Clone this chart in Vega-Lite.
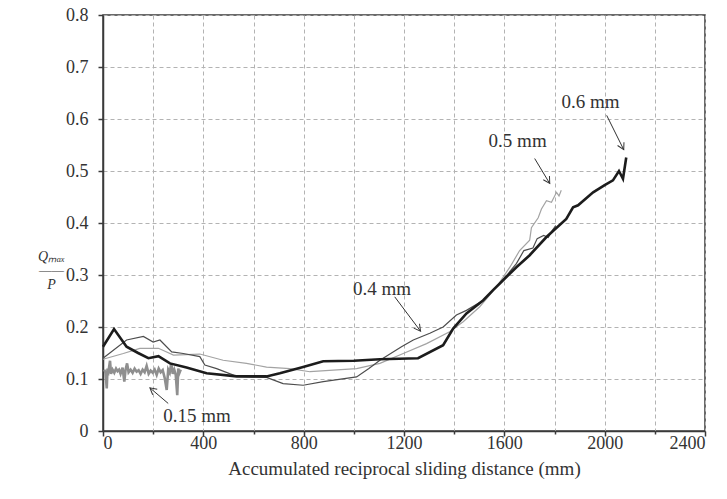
{
  "$schema": "https://vega.github.io/schema/vega-lite/v6.json",
  "width": 602,
  "height": 416,
  "autosize": {"type": "none"},
  "padding": {"left": 103, "top": 15, "right": 22, "bottom": 68},
  "background": "white",
  "config": {
    "font": "Liberation Serif",
    "view": {"stroke": "#3a3a3a", "strokeWidth": 1.5}
  },
  "datasets": {
    "curves": [
      {"series": "0.5 mm", "x": 0, "y": 0.138},
      {"series": "0.5 mm", "x": 81, "y": 0.149},
      {"series": "0.5 mm", "x": 147, "y": 0.159},
      {"series": "0.5 mm", "x": 221, "y": 0.159},
      {"series": "0.5 mm", "x": 281, "y": 0.146},
      {"series": "0.5 mm", "x": 386, "y": 0.148},
      {"series": "0.5 mm", "x": 479, "y": 0.136},
      {"series": "0.5 mm", "x": 572, "y": 0.13},
      {"series": "0.5 mm", "x": 652, "y": 0.123},
      {"series": "0.5 mm", "x": 745, "y": 0.12},
      {"series": "0.5 mm", "x": 825, "y": 0.114},
      {"series": "0.5 mm", "x": 1011, "y": 0.12},
      {"series": "0.5 mm", "x": 1104, "y": 0.13},
      {"series": "0.5 mm", "x": 1197, "y": 0.149},
      {"series": "0.5 mm", "x": 1290, "y": 0.168},
      {"series": "0.5 mm", "x": 1382, "y": 0.191},
      {"series": "0.5 mm", "x": 1436, "y": 0.21},
      {"series": "0.5 mm", "x": 1502, "y": 0.239},
      {"series": "0.5 mm", "x": 1569, "y": 0.277},
      {"series": "0.5 mm", "x": 1622, "y": 0.315},
      {"series": "0.5 mm", "x": 1661, "y": 0.347},
      {"series": "0.5 mm", "x": 1701, "y": 0.367},
      {"series": "0.5 mm", "x": 1708, "y": 0.391},
      {"series": "0.5 mm", "x": 1735, "y": 0.41},
      {"series": "0.5 mm", "x": 1748, "y": 0.427},
      {"series": "0.5 mm", "x": 1768, "y": 0.443},
      {"series": "0.5 mm", "x": 1788, "y": 0.44},
      {"series": "0.5 mm", "x": 1808, "y": 0.459},
      {"series": "0.5 mm", "x": 1818, "y": 0.452},
      {"series": "0.5 mm", "x": 1827, "y": 0.463},
      {"series": "0.4 mm", "x": 0, "y": 0.14},
      {"series": "0.4 mm", "x": 94, "y": 0.175},
      {"series": "0.4 mm", "x": 161, "y": 0.182},
      {"series": "0.4 mm", "x": 200, "y": 0.171},
      {"series": "0.4 mm", "x": 227, "y": 0.175},
      {"series": "0.4 mm", "x": 274, "y": 0.152},
      {"series": "0.4 mm", "x": 320, "y": 0.149},
      {"series": "0.4 mm", "x": 386, "y": 0.143},
      {"series": "0.4 mm", "x": 406, "y": 0.127},
      {"series": "0.4 mm", "x": 453, "y": 0.12},
      {"series": "0.4 mm", "x": 533, "y": 0.105},
      {"series": "0.4 mm", "x": 652, "y": 0.103},
      {"series": "0.4 mm", "x": 718, "y": 0.091},
      {"series": "0.4 mm", "x": 798, "y": 0.088},
      {"series": "0.4 mm", "x": 878, "y": 0.095},
      {"series": "0.4 mm", "x": 1011, "y": 0.104},
      {"series": "0.4 mm", "x": 1060, "y": 0.12},
      {"series": "0.4 mm", "x": 1104, "y": 0.136},
      {"series": "0.4 mm", "x": 1190, "y": 0.162},
      {"series": "0.4 mm", "x": 1237, "y": 0.175},
      {"series": "0.4 mm", "x": 1303, "y": 0.188},
      {"series": "0.4 mm", "x": 1356, "y": 0.2},
      {"series": "0.4 mm", "x": 1409, "y": 0.223},
      {"series": "0.4 mm", "x": 1449, "y": 0.232},
      {"series": "0.4 mm", "x": 1515, "y": 0.251},
      {"series": "0.4 mm", "x": 1582, "y": 0.283},
      {"series": "0.4 mm", "x": 1648, "y": 0.322},
      {"series": "0.4 mm", "x": 1678, "y": 0.347},
      {"series": "0.4 mm", "x": 1714, "y": 0.352},
      {"series": "0.4 mm", "x": 1731, "y": 0.37},
      {"series": "0.4 mm", "x": 1757, "y": 0.376},
      {"series": "0.4 mm", "x": 1775, "y": 0.372},
      {"series": "0.4 mm", "x": 1790, "y": 0.385},
      {"series": "0.4 mm", "x": 1805, "y": 0.395},
      {"series": "0.15 mm", "x": 5, "y": 0.118},
      {"series": "0.15 mm", "x": 10, "y": 0.112},
      {"series": "0.15 mm", "x": 15, "y": 0.082},
      {"series": "0.15 mm", "x": 18, "y": 0.12},
      {"series": "0.15 mm", "x": 22, "y": 0.115},
      {"series": "0.15 mm", "x": 28, "y": 0.135},
      {"series": "0.15 mm", "x": 32, "y": 0.11},
      {"series": "0.15 mm", "x": 38, "y": 0.118},
      {"series": "0.15 mm", "x": 45, "y": 0.112},
      {"series": "0.15 mm", "x": 52, "y": 0.12},
      {"series": "0.15 mm", "x": 58, "y": 0.115},
      {"series": "0.15 mm", "x": 64, "y": 0.118},
      {"series": "0.15 mm", "x": 70, "y": 0.11},
      {"series": "0.15 mm", "x": 78, "y": 0.122},
      {"series": "0.15 mm", "x": 85, "y": 0.095},
      {"series": "0.15 mm", "x": 90, "y": 0.118},
      {"series": "0.15 mm", "x": 96, "y": 0.13},
      {"series": "0.15 mm", "x": 102, "y": 0.113},
      {"series": "0.15 mm", "x": 110, "y": 0.118},
      {"series": "0.15 mm", "x": 118, "y": 0.112},
      {"series": "0.15 mm", "x": 126, "y": 0.12},
      {"series": "0.15 mm", "x": 134, "y": 0.114},
      {"series": "0.15 mm", "x": 142, "y": 0.117},
      {"series": "0.15 mm", "x": 150, "y": 0.11},
      {"series": "0.15 mm", "x": 158, "y": 0.118},
      {"series": "0.15 mm", "x": 166, "y": 0.113},
      {"series": "0.15 mm", "x": 174, "y": 0.125},
      {"series": "0.15 mm", "x": 182, "y": 0.11},
      {"series": "0.15 mm", "x": 190, "y": 0.116},
      {"series": "0.15 mm", "x": 198, "y": 0.112},
      {"series": "0.15 mm", "x": 206, "y": 0.118},
      {"series": "0.15 mm", "x": 214, "y": 0.108},
      {"series": "0.15 mm", "x": 222, "y": 0.12},
      {"series": "0.15 mm", "x": 230, "y": 0.113},
      {"series": "0.15 mm", "x": 238, "y": 0.117},
      {"series": "0.15 mm", "x": 246, "y": 0.102},
      {"series": "0.15 mm", "x": 254, "y": 0.079},
      {"series": "0.15 mm", "x": 260, "y": 0.118},
      {"series": "0.15 mm", "x": 266, "y": 0.112},
      {"series": "0.15 mm", "x": 272, "y": 0.13},
      {"series": "0.15 mm", "x": 278, "y": 0.11},
      {"series": "0.15 mm", "x": 284, "y": 0.118},
      {"series": "0.15 mm", "x": 290, "y": 0.108},
      {"series": "0.15 mm", "x": 296, "y": 0.069},
      {"series": "0.15 mm", "x": 300, "y": 0.12},
      {"series": "0.15 mm", "x": 305, "y": 0.112},
      {"series": "0.15 mm", "x": 310, "y": 0.118},
      {"series": "0.6 mm", "x": 0, "y": 0.162},
      {"series": "0.6 mm", "x": 44, "y": 0.196},
      {"series": "0.6 mm", "x": 94, "y": 0.162},
      {"series": "0.6 mm", "x": 140, "y": 0.15},
      {"series": "0.6 mm", "x": 181, "y": 0.14},
      {"series": "0.6 mm", "x": 221, "y": 0.144},
      {"series": "0.6 mm", "x": 267, "y": 0.13},
      {"series": "0.6 mm", "x": 333, "y": 0.122},
      {"series": "0.6 mm", "x": 413, "y": 0.111},
      {"series": "0.6 mm", "x": 533, "y": 0.105},
      {"series": "0.6 mm", "x": 652, "y": 0.105},
      {"series": "0.6 mm", "x": 705, "y": 0.111},
      {"series": "0.6 mm", "x": 798, "y": 0.123},
      {"series": "0.6 mm", "x": 878, "y": 0.134},
      {"series": "0.6 mm", "x": 1000, "y": 0.135},
      {"series": "0.6 mm", "x": 1104, "y": 0.138},
      {"series": "0.6 mm", "x": 1256, "y": 0.14},
      {"series": "0.6 mm", "x": 1356, "y": 0.165},
      {"series": "0.6 mm", "x": 1396, "y": 0.197},
      {"series": "0.6 mm", "x": 1449, "y": 0.226},
      {"series": "0.6 mm", "x": 1515, "y": 0.251},
      {"series": "0.6 mm", "x": 1555, "y": 0.271},
      {"series": "0.6 mm", "x": 1595, "y": 0.29},
      {"series": "0.6 mm", "x": 1648, "y": 0.315},
      {"series": "0.6 mm", "x": 1701, "y": 0.338},
      {"series": "0.6 mm", "x": 1768, "y": 0.373},
      {"series": "0.6 mm", "x": 1847, "y": 0.408},
      {"series": "0.6 mm", "x": 1874, "y": 0.43},
      {"series": "0.6 mm", "x": 1894, "y": 0.434},
      {"series": "0.6 mm", "x": 1954, "y": 0.459},
      {"series": "0.6 mm", "x": 2000, "y": 0.473},
      {"series": "0.6 mm", "x": 2033, "y": 0.482},
      {"series": "0.6 mm", "x": 2057, "y": 0.5},
      {"series": "0.6 mm", "x": 2073, "y": 0.485},
      {"series": "0.6 mm", "x": 2086, "y": 0.526}
    ],
    "notes": [
      {"label": "0.15 mm", "tx": 375, "ty": 0.028, "ax": 260, "ay": 0.053, "ax2": 187, "ay2": 0.083},
      {"label": "0.4 mm", "tx": 1112, "ty": 0.273, "ax": 1163, "ay": 0.258, "ax2": 1266, "ay2": 0.192},
      {"label": "0.5 mm", "tx": 1653, "ty": 0.557, "ax": 1721, "ay": 0.524, "ax2": 1781, "ay2": 0.476},
      {"label": "0.6 mm", "tx": 1944, "ty": 0.633, "ax": 2008, "ay": 0.607, "ax2": 2076, "ay2": 0.541}
    ]
  },
  "layer": [
    {
      "data": {"name": "curves"},
      "transform": [{"filter": "datum.series === '0.5 mm' || datum.series === '0.4 mm'"}],
      "mark": {"type": "line", "strokeWidth": 1.2},
      "encoding": {
        "x": {
          "field": "x", "type": "quantitative",
          "scale": {"domain": [0, 2400], "nice": false, "zero": false},
          "axis": {
            "values": [0, 200, 400, 600, 800, 1000, 1200, 1400, 1600, 1800, 2000, 2200, 2400],
            "format": "d",
            "labelExpr": "datum.value % 400 === 0 ? datum.label : ''",
            "grid": true, "gridDash": [4, 3], "gridColor": "#b3b3b3", "gridWidth": 1,
            "tickSize": {"condition": {"test": "datum.value % 400 === 0", "value": 5}, "value": 3},
            "tickColor": "#3a3a3a", "tickWidth": 1.5,
            "domainColor": "#3a3a3a", "domainWidth": 1.5,
            "labelFontSize": 18, "labelColor": "#333333", "labelPadding": -2,
            "title": "Accumulated reciprocal sliding distance (mm)",
            "titleFontSize": 19, "titleFontWeight": "normal", "titleColor": "#333333", "titlePadding": 7
          }
        },
        "y": {
          "field": "y", "type": "quantitative",
          "scale": {"domain": [0, 0.8], "nice": false},
          "axis": {
            "values": [0, 0.1, 0.2, 0.3, 0.4, 0.5, 0.6, 0.7, 0.8],
            "format": "~g",
            "grid": true, "gridDash": [4, 3], "gridColor": "#b3b3b3", "gridWidth": 1,
            "tickSize": 5, "tickColor": "#3a3a3a", "tickWidth": 1.5,
            "domainColor": "#3a3a3a", "domainWidth": 1.5,
            "labelFontSize": 18, "labelColor": "#333333", "labelPadding": 10,
            "title": ["Qₘₐₓ", "——", "P"],
            "titleFontSize": 14, "titleFontWeight": "normal", "titleFontStyle": "italic",
            "titleColor": "#333333", "titleAngle": 0, "titleAlign": "center",
            "titleBaseline": "top", "titleLineHeight": 14,
            "titleX": -52, "titleY": 234
          }
        },
        "color": {
          "field": "series", "type": "nominal",
          "scale": {"domain": ["0.5 mm", "0.4 mm", "0.15 mm", "0.6 mm"], "range": ["#a3a3a3", "#4d4d4d", "#8f8f8f", "#1c1c1c"]},
          "legend": null
        }
      }
    },
    {
      "data": {"name": "curves"},
      "transform": [{"filter": "datum.series === '0.15 mm'"}],
      "mark": {"type": "line", "strokeWidth": 2.6, "color": "#8f8f8f"},
      "encoding": {
        "x": {"field": "x", "type": "quantitative"},
        "y": {"field": "y", "type": "quantitative"}
      }
    },
    {
      "data": {"name": "curves"},
      "transform": [{"filter": "datum.series === '0.6 mm'"}],
      "mark": {"type": "line", "strokeWidth": 2.6, "color": "#1c1c1c"},
      "encoding": {
        "x": {"field": "x", "type": "quantitative"},
        "y": {"field": "y", "type": "quantitative"}
      }
    },
    {
      "data": {"name": "notes"},
      "mark": {"type": "rule", "color": "#333333", "strokeWidth": 1},
      "encoding": {
        "x": {"field": "ax", "type": "quantitative"},
        "y": {"field": "ay", "type": "quantitative"},
        "x2": {"field": "ax2"},
        "y2": {"field": "ay2"}
      }
    },
    {
      "data": {"name": "notes"},
      "mark": {"type": "point", "shape": "M-0.55,1L0,0L0.55,1", "filled": false, "color": "#333333", "strokeWidth": 1, "size": 170, "opacity": 1},
      "encoding": {
        "x": {"field": "ax2", "type": "quantitative"},
        "y": {"field": "ay2", "type": "quantitative"},
        "angle": {
          "condition": [
            {"test": "datum.label === '0.15 mm'", "value": 309},
            {"test": "datum.label === '0.4 mm'", "value": 143},
            {"test": "datum.label === '0.5 mm'", "value": 149}
          ],
          "value": 153
        }
      }
    },
    {
      "data": {"name": "notes"},
      "mark": {"type": "text", "fontSize": 19, "color": "#333333", "align": "center", "baseline": "middle"},
      "encoding": {
        "x": {"field": "tx", "type": "quantitative"},
        "y": {"field": "ty", "type": "quantitative"},
        "text": {"field": "label"}
      }
    }
  ]
}
